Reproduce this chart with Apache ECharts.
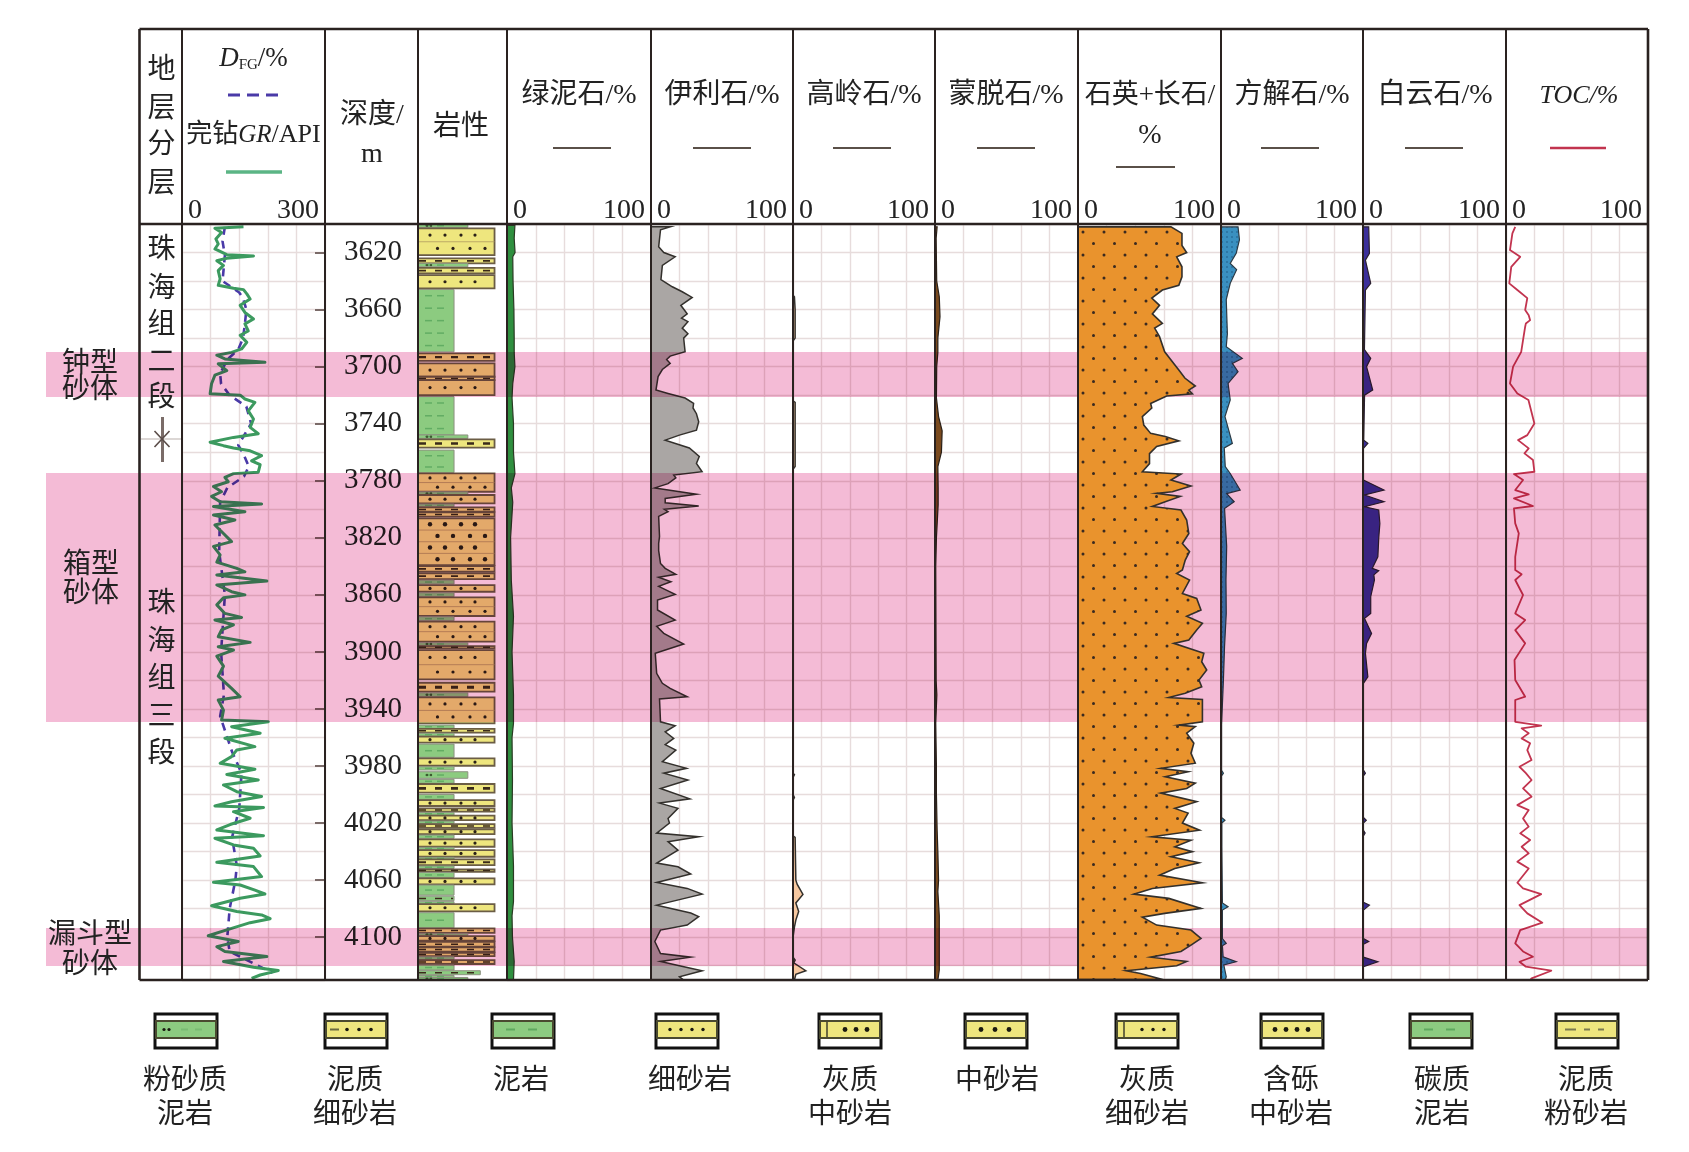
<!DOCTYPE html>
<html><head><meta charset="utf-8">
<style>html,body{margin:0;padding:0;background:#fff}#c{width:1689px;height:1152px}</style>
<script src="https://cdn.jsdelivr.net/npm/echarts@6/dist/echarts.min.js"></script>
</head><body><div id="c"></div>
<script>
// ---------- data ----------
const depthMin = 3600, depthMax = 4130;
const depthTicks = [3620,3660,3700,3740,3780,3820,3860,3900,3940,3980,4020,4060,4100];
const bandTop = [3689.7,3774.6,4093.5];
const bandBase = [3721.3,3949.1,4120.2];
const bandNames = [['钟型','砂体'],['箱型','砂体'],['漏斗型','砂体']];

const grDepth = [3602,3603,3606,3610.5,3614,3617.5,3621.5,3622.4,3624,3625.7,3629,3632.7,3638.5,3643,3645,3646,3649,3652.6,3657,3662,3666.6,3670,3675,3678,3683,3687.6,3690,3692,3694.6,3697,3698,3702.8,3706,3712,3719,3720,3722.7,3725,3731,3736.7,3742.6,3747,3749.6,3753,3755.4,3757,3759,3762.4,3766,3768.7,3774,3775,3777.6,3780.7,3784,3787.7,3791,3794.7,3796.3,3798,3801.7,3804,3807.5,3811,3817,3822.7,3826,3832,3837,3841.4,3843.8,3846,3850.3,3853,3857.8,3860,3862,3867,3873,3875.8,3877.6,3881,3884.6,3889.3,3893.3,3896.4,3898.7,3903,3910,3917,3925.6,3931.4,3933.7,3940.8,3947.8,3949,3952.4,3957,3960.5,3966.4,3968.7,3973.4,3978,3982.3,3986,3989.8,3993.3,3998,4001.4,4005,4008,4009,4012,4016.6,4021,4024.8,4028.8,4030.6,4035.3,4037.7,4043,4047.5,4050.5,4057.5,4061.5,4063.4,4067,4069.7,4072.7,4077.9,4082,4084.4,4087,4089.8,4093.8,4099,4103,4106.6,4110,4113.6,4117,4121,4123.4,4126.5,4128.8];
const grValue = [129,69,83,71,76,69,94,150,94,73,87,76,80,76,108,129,136,143,122,132,150,132,139,122,136,125,104,73,90,174,76,94,69,62,59,122,132,153,139,150,143,160,108,59,87,108,143,167,146,164,160,108,90,97,66,83,62,80,167,66,132,66,111,69,87,104,66,80,73,115,132,73,178,73,104,132,87,73,90,125,69,108,83,76,143,76,108,73,87,76,104,122,76,87,83,181,104,164,90,153,115,104,80,153,94,160,87,115,167,104,69,171,108,143,101,73,171,69,108,150,164,73,150,167,66,122,153,174,122,62,115,167,185,143,104,55,118,73,90,178,87,150,202,164,146];

const dfgDepth = [3602,3612,3622,3640,3648,3652,3660,3670,3680,3688,3695,3705,3712,3720,3728,3740,3755,3762,3770,3777,3785,3795,3830,3860,3900,3930,3945,3970,3985,4010,4030,4050,4060,4080,4100,4110,4125];
const dfgValue = [90,85,90,85,120,128,135,132,128,118,95,80,82,100,135,145,118,130,140,130,95,80,78,90,82,88,80,105,125,120,105,115,112,100,95,100,190];

const chloriteDepth = [3601,3610,3620,3623,3640,3660,3680,3690,3700,3712,3722,3740,3760,3775,3785,3795,3820,3850,3875,3900,3930,3950,3960,3990,4020,4050,4075,4085,4100,4117,4130];
const chloriteValue = [5.5,5,5.6,4,4.2,4.8,5,5,5.5,4,3.5,4.5,4.5,5.5,3,4,2.5,3,4.5,3.5,4.5,4.5,3.5,3.8,3.5,4.5,4.5,3.5,3.8,5,4.5];

const illiteDepth = [3602,3604,3616,3620,3623,3629,3639,3644,3647.5,3651.5,3657,3663,3666,3668.5,3673,3677,3680,3689.5,3692.6,3695,3697.7,3702,3707,3716.4,3718.8,3722,3725.8,3729,3733,3738.6,3744.5,3748,3751.5,3757,3763,3767.8,3773.7,3776,3778,3782,3785,3789.5,3792.4,3795.4,3797.7,3800,3801.7,3805,3819,3824,3829,3838,3841.4,3845.6,3847.7,3850.8,3854,3859.7,3863.6,3870.6,3877.7,3882,3887,3894.5,3901,3915,3922,3925.6,3931.4,3933,3949,3951.7,3956,3960.6,3965,3968.8,3977,3981.6,3985,3989.8,3995.7,4003,4006,4009.7,4016.7,4020,4027,4029.6,4033,4039,4048,4050.6,4055.7,4061.6,4065.8,4069.8,4077.5,4083,4085.6,4091.5,4095,4103,4111.4,4114,4117,4120,4123.5,4127.7,4130];
const illiteValue = [13.5,6.7,5.4,9,17,8,7,15,22,29,21,25.5,21.5,26,22,26,23,24,13.5,11,13.5,8,5,3.5,12,24,30,29.6,32,33.6,32,20,10,27,34,32,36,16,17.5,12,2.7,32,10,10,33.6,9.4,12,5.4,6,5.4,5.4,6.7,10,17.5,5.4,14,5.4,17,4.6,4.6,17,4,9,23,3,4,8,13.5,25.5,6,6.7,17,10,16,10,17.5,8,25,9,26,6.7,27.4,6,19,12,13,4,33.6,12,19,4,19,28,4,25.5,36,4,28,33.6,25.5,6.7,2.7,6.7,28,6.7,20,36,20,23];

const kaoliniteDepth = [3600,3650,3651,3660,3680,3682,3724,3725,3770,3772,3985,3986,3988,4000,4002,4004,4029,4030,4060,4063,4070,4076,4082,4088,4093,4100,4114,4116,4118,4123.5,4126,4130];
const kaoliniteValue = [0,0,1,1.5,1.5,0,0,1.5,1.5,0,0,1,0,0,1,0,0,1.5,2,3,7,2,4,2,1,0,0,1.5,.5,9,2,1];

const montDepth = [3602,3610,3640,3651,3665,3680,3690,3700,3722,3735,3745,3760,3770,3785,3797,3820,3840,3920,3930,3950,3980,4000,4025,4040,4060,4068,4085,4100,4123,4130];
const montValue = [1.5,.8,1.2,3,3.5,2,2,1.2,1,2.5,5,4.5,2,2.2,2.2,1,.5,.8,1.3,.5,1,1,1.5,2,2.5,2,3,3,3,2];

const quartzDepth = [3602,3606.6,3615,3620,3623,3630,3637,3643,3646.3,3652,3657,3663,3669.7,3673,3679,3689.6,3696.6,3702.4,3708,3713.6,3716.4,3719,3720.6,3725.8,3729,3735,3741,3746.8,3749,3752,3756,3761,3768,3773.7,3775.3,3779.5,3783.7,3787.7,3788.8,3791,3794.7,3798,3800.5,3807.5,3817,3824,3829.7,3835.6,3842.6,3845,3849.6,3859,3862.5,3870.6,3875,3880,3884.6,3891.7,3894,3901,3906.9,3912.7,3919.7,3924.4,3929,3932,3933.3,3949,3951.3,3952.4,3957,3964,3971,3978,3981.6,3984,3987.5,3992,3995.7,3999,4005,4009.7,4013,4020,4025,4029.6,4032,4036.6,4040,4043.6,4047.8,4051.8,4056.5,4061.8,4065.8,4069.8,4072.8,4079.8,4083.3,4086,4091.5,4095,4100.8,4105.5,4110,4114,4117,4120,4123.5,4125.4,4129.6];
const quartzValue = [65,72.7,72.7,76,69,72.7,72.7,70.5,59,51.6,57,52,59,53.6,57,60.6,66,70.5,74.7,82,77.5,80,62,50.8,51.6,45,46,50.8,61,70.5,55,50,50,45,72,65,79,66,55,71.5,61,52,72,76,77.5,73,78,75,73,69,78,73,83,86,76,87,83,77.5,67,88,86.5,90,84.6,86.5,75,63.5,87,87,70.5,82,76,81,79,82,57.8,77,61,82,76,57.8,83,67.7,77,73,85,51.6,79,67.7,80,65,84.6,67.7,57,87,52,39,63.5,86,60.6,45,55,79,86,79,72,50.8,76,69,33.8,43.7,59];

const calciteDepth = [3602,3611,3620.6,3627.6,3632,3641.6,3653,3677,3686,3694.2,3697.7,3703.6,3711.8,3723.4,3735,3753.8,3757,3770,3774.9,3786.5,3789,3794.7,3799.4,3826,3849.6,3873,3896,3919.7,3951,3983,3985,3987,4016,4018,4020,4036.6,4076,4078.6,4081,4101,4104.3,4106,4113.7,4117.2,4119.5,4127.7,4130];
const calciteValue = [12,13,10.7,6.5,11,6.5,3.7,4.5,3.7,15,8,12,5,6.5,2.8,8,2.3,3,6.5,13.5,4,9.3,2.5,4,3.5,3.7,2.5,1.7,.4,.4,1.7,.4,.4,2.8,.6,.6,1,5,1,1,3.7,1,1.5,10.7,2,3.7,3];

const dolomiteDepth = [3602,3620.6,3625.3,3641.6,3646.3,3688,3694.2,3700,3716.4,3720,3751.5,3753.8,3757.3,3779.5,3786.5,3790,3794.7,3798.2,3800.5,3809.9,3820.4,3833.3,3841.4,3843,3846,3849.6,3861.3,3873,3876.5,3887,3894,3901,3917.4,3922,3982.8,3985,3987,4016,4018,4020,4025,4027,4029,4075.5,4077.5,4081,4101,4103,4105,4114,4117.2,4120.7,4130];
const dolomiteValue = [4,4.5,1.7,5.4,1.7,1,5.4,2.5,6.8,1.1,.5,3.4,.3,.3,14.7,1.1,14.7,1.1,11,11.8,11,10.4,6.5,11,7.6,8,5.4,5.4,1.1,6,2.5,1.7,3.4,.3,.3,1.7,.3,.3,2.3,.3,.3,1.5,.3,.3,4.5,.3,.3,4,.3,.3,10.4,.3,.3];

const tocDepth = [3602,3606.6,3618.3,3623,3630,3641.6,3646.3,3652,3660.3,3664,3667.4,3669.7,3672,3681.4,3689.6,3700,3711.8,3718.8,3723.4,3739.8,3748,3751.5,3757.3,3760.8,3765.5,3773.7,3775.3,3779.5,3786.5,3789.6,3792.4,3797.7,3799.4,3809.9,3816.9,3833.3,3842.6,3845.6,3849.6,3860.1,3873,3877.7,3884.7,3894,3905.7,3919.7,3931.4,3933.7,3949,3951.7,3953.6,3957,3960.6,3964,3968.8,3975.8,3980.5,3985,3989.8,3995.7,4001.5,4007.4,4010.9,4016.7,4022.5,4027.2,4031.9,4036.6,4041.2,4047,4051.8,4061.8,4065.8,4069.8,4077.5,4083.3,4089.8,4095,4104.3,4110,4113.7,4117.2,4120.7,4123.5,4128.9,4130];
const tocValue = [6.5,4.5,2.8,10,3.7,2.3,8,15,13.5,16,17,14,13.5,12,10.7,5,2.8,8,15.8,20,15,8.5,16,13,19,20,5.6,12,6.5,16,5.6,19,5.6,6.5,9,6.5,6.5,11,6.5,12,6.5,13.5,6.5,13.5,6,6.5,13.5,6.5,6.5,24.8,11,16,11,17,15,18,9.5,14,18,12,18,8,16,12,16,10,17,11,16,8,16,8,12,24.8,9.5,15,25.6,10,6.5,12,19,9.5,14,31.9,18,17];

const lithTop = [3600,3603.1,3624.1,3627.6,3630.7,3635.8,3645.9,3690.7,3697.7,3707.1,3709.4,3721,3747.9,3751,3758.5,3774.8,3787.7,3790,3796.3,3798.6,3802.2,3806.4,3839.8,3844.9,3849.6,3853.1,3858.5,3861.7,3875.3,3878.8,3893.5,3895.9,3898.7,3921.6,3928.6,3931.9,3951.3,3954,3957,3959.4,3964.6,3974.6,3980.5,3984,3989.3,3992.6,3999.9,4003.9,4009.7,4012.5,4014.8,4018.6,4020.7,4024.4,4028.4,4031.4,4037,4038.9,4044,4045.5,4050.1,4052.5,4054.6,4058.8,4063.4,4071.2,4075.1,4076.8,4082.8,4093.8,4097.3,4099.2,4103.2,4107.1,4110.9,4113.7,4116,4119.5,4123.5,4126.8,4128.2];
const lithBase = [3602.4,3621.8,3627.6,3630,3634.6,3645.2,3689.6,3695.9,3707.1,3709.4,3719.9,3747.9,3750.3,3756.8,3774.3,3787.7,3790,3795.8,3798.2,3801.7,3805.2,3839.1,3843.8,3848.9,3852.4,3857.8,3861.3,3874.8,3878.1,3892.8,3895.4,3897.5,3919.2,3927.9,3931.4,3950.1,3953.6,3956.6,3959,3963.6,3973.9,3979.8,3982.8,3988.6,3992.1,3998.7,4003.4,4008,4012,4014.4,4017.9,4020.2,4023.3,4027.7,4030.7,4036.6,4038.4,4043.6,4045,4049.4,4051.8,4054.1,4058.1,4063,4070.5,4074.4,4076.3,4081.9,4093.4,4096.9,4098.7,4102.5,4106.7,4110.2,4113.2,4115.6,4118.8,4123,4126.3,4127.7,4130];
const lithType = ['silt','sand','dark','silt','dark','sand','mud','dark','sand','dark','sand','mud','silt','dark','mud','sand','silt','sand','mud','dark','dark','sand','dark','dark','mud','sand','mud','sand','mud','sand','silt','dark','sand','dark','silt','sand','mud','dark','mud','sand','mud','sand','mud','silt','mud','dark','mud','sand','dark','mud','sand','mud','dark','sand','mud','sand','mud','sand','mud','dark','mud','dark','mud','sand','mud','mudDark','mud','sand','mud','dark','silt','sand','dark','dark','dark','mud','dark','mud','siltLong','mud','silt'];

const legendNames = ['粉砂质\n泥岩','泥质\n细砂岩','泥岩','细砂岩','灰质\n中砂岩','中砂岩','灰质\n细砂岩','含砾\n中砂岩','碳质\n泥岩','泥质\n粉砂岩'];
const legendColors = ['#8CCB80','#EEE67E','#8CCB80','#EEE67E','#EEE67E','#EEE67E','#EEE67E','#EEE67E','#8CCB80','#EEE67E'];

// ---------- layout ----------
const W = 1689, H = 1152;
const colX = [139.5,182,325,418,507,651,793,935,1078,1221,1363,1506,1648];
const top0 = 29, head = 224, bot = 980;
const INK = '#2a2220';
const SERIF = '"Liberation Serif","Noto Sans CJK SC",serif';
const font = (s, extra) => (extra ? extra + ' ' : '') + s + 'px ' + SERIF;

const grids = [], xAxes = [], yAxes = [], series = [];
function addGrid(left, right, xOpt, yOpt) {
  grids.push({left, top: head, width: right - left, height: bot - head, containLabel: false});
  const i = grids.length - 1;
  xAxes.push(Object.assign({type:'value', gridIndex:i, min:0, max:100, show:false}, xOpt || {}));
  yAxes.push(Object.assign({type:'value', gridIndex:i, min:depthMin, max:depthMax, inverse:true, show:false}, yOpt || {}));
  return i;
}
const GRIDLINE = {show:true, lineStyle:{color:'#e7dcdc', width:1.4}};
function trackAxes(maxV) {
  return [{
    show:true, position:'top', min:0, max:maxV, interval:maxV/5,
    axisLine:{show:false}, axisTick:{show:false}, splitLine:GRIDLINE,
    axisLabel:{show:true, customValues:[0,maxV], alignMinLabel:'left', alignMaxLabel:'right',
      margin:-1, padding:[0,6,0,6], color:'#222', fontSize:28, fontFamily:SERIF}
  },{
    show:true, interval:20, axisLine:{show:false}, axisTick:{show:false}, axisLabel:{show:false}, splitLine:GRIDLINE
  }];
}
function trackGrid(a, b, maxV) { const t = trackAxes(maxV); return addGrid(colX[a], colX[b], t[0], t[1]); }

function fillTrack(gi, depth, value, fill, stroke, lw, z) {
  series.push({
    type:'custom', xAxisIndex:gi, yAxisIndex:gi, clip:true, silent:true, z:z||3,
    data:[[0, depth[0]]],
    renderItem:(p, api) => {
      const pts = [api.coord([0, depth[0]])];
      depth.forEach((d, i) => pts.push(api.coord([value[i], d])));
      pts.push(api.coord([0, depth[depth.length-1]]));
      return {type:'polygon', shape:{points:pts}, style:{fill, stroke:stroke||'#33302c', lineWidth:lw||1.5, lineJoin:'miter'}};
    }
  });
}
function lineTrack(gi, depth, value, color, width, dash, z) {
  series.push({
    type:'line', xAxisIndex:gi, yAxisIndex:gi, showSymbol:false, silent:true, z:z||4, animation:false,
    data:depth.map((d,i)=>[value[i], d]),
    lineStyle:{color, width, type:dash||'solid', join:'round'}
  });
}
function dotPattern(bg, dot, w, h, spots, r) {
  const c = document.createElement('canvas'); c.width = w; c.height = h;
  const x = c.getContext('2d');
  x.fillStyle = bg; x.fillRect(0,0,w,h);
  x.fillStyle = dot;
  spots.forEach(s => { x.beginPath(); x.arc(s[0], s[1], r, 0, Math.PI*2); x.fill(); });
  return {image:c, repeat:'repeat'};
}

// overlay grid for the pink bands (runs past the frame on the left)
const bandGrid = addGrid(46, colX[12], {min:0, max:1});
series.push({
  type:'custom', xAxisIndex:bandGrid, yAxisIndex:bandGrid, clip:false, silent:true, z:100, blendMode:'multiply',
  data:bandTop.map((t,i)=>[t, bandBase[i]]),
  renderItem:(p, api) => {
    const a = api.coord([0, api.value(0)]), b = api.coord([1, api.value(1)]);
    return {type:'rect', shape:{x:a[0], y:a[1], width:b[0]-a[0], height:b[1]-a[1]},
      style:{fill:'#F4BBD6'}};
  }
});

// GR
const grG = trackGrid(1, 2, 300);
lineTrack(grG, dfgDepth, dfgValue, '#4a3aa8', 2.6, [8,6], 4);
lineTrack(grG, grDepth, grValue, '#3c9a5f', 3, 'solid', 5);

// depth axis
addGrid(colX[2], colX[3], null, {
  show:true, position:'right',
  axisLine:{show:false},
  axisTick:{show:true, inside:true, length:10, customValues:depthTicks, lineStyle:{color:'#7a6a68', width:2}},
  axisLabel:{show:true, inside:true, margin:16, customValues:depthTicks, color:'#222', fontSize:29, fontFamily:SERIF,
    padding:[8,0,0,0], formatter:v => String(v)},
  splitLine:{show:false}
});

// lithology
const lithW = {mud:40.5, mudDark:40.5, silt:56, siltLong:70, sand:86, dark:86};
const lithG = addGrid(colX[3], colX[4]);
const DOT_A = [12,27,43,57], DOT_B = [19.5,35,52,67];
series.push({
  type:'custom', xAxisIndex:lithG, yAxisIndex:lithG, clip:true, silent:true, z:3,
  data:lithTop.map((t,i)=>[t, lithBase[i], i]),
  renderItem:(p, api) => {
    const i = api.value(2), ty = lithType[i];
    const a = api.coord([0, api.value(0)]), b = api.coord([lithW[ty], api.value(1)]);
    const x = a[0], y = a[1], w = b[0]-a[0], h = Math.max(b[1]-a[1], 2);
    const green = ty==='mud'||ty==='mudDark'||ty==='silt'||ty==='siltLong';
    const kids = [{type:'rect', shape:{x, y, width:w, height:h},
      style:{fill:green?'#8CCB80':'#EEE67E', stroke:green?'#8d9080':'#6b5d45', lineWidth:green?1:1.8}}];
    const rows = Math.max(1, Math.round(h/12));
    for (let r=0; r<rows; r++) {
      const ry = y + (r+.5)*h/rows;
      if (ty==='sand') {
        const rad = rows>=4 ? 2.2 : 1.6;
        (r%2?DOT_B:DOT_A).forEach(dx => kids.push({type:'circle', shape:{cx:x+dx, cy:ry, r:rad}, style:{fill:'#2a2018'}}));
        if (r>0) kids.push({type:'line', shape:{x1:x, y1:y+r*h/rows, x2:x+w, y2:y+r*h/rows}, style:{stroke:'#b09a60', lineWidth:.8}});
      } else if (ty==='dark'||ty==='mudDark'||ty==='siltLong') {
        kids.push({type:'line', shape:{x1:x+1, y1:ry, x2:x+w-1, y2:ry},
          style:{stroke:'#3a2a1a', lineWidth:Math.min(3, Math.max(1.5, h*.32)), lineDash:[7,9]}});
      } else {
        [[7,14],[19,26]].forEach(s => kids.push({type:'line', shape:{x1:x+s[0], y1:ry, x2:x+s[1], y2:ry}, style:{stroke:'#62ad63', lineWidth:1.5}}));
        if (ty==='silt') [9,13].forEach(dx => kids.push({type:'circle', shape:{cx:x+dx, cy:ry, r:1.2}, style:{fill:'#3d5a30'}}));
      }
    }
    return {type:'group', children:kids};
  }
});

// mineral tracks
const chlG = trackGrid(4,5,100); fillTrack(chlG, chloriteDepth, chloriteValue, '#2f8f3f', '#2b3a24', 1.2);
const illG = trackGrid(5,6,100); fillTrack(illG, illiteDepth, illiteValue, '#aaa6a4');
const kaoG = trackGrid(6,7,100); fillTrack(kaoG, kaoliniteDepth, kaoliniteValue, '#f7c8a0');
const monG = trackGrid(7,8,100); fillTrack(monG, montDepth, montValue, '#7a4a1e', '#2a2018', 1.2);
const quaG = trackGrid(8,9,100);
fillTrack(quaG, quartzDepth, quartzValue, dotPattern('#E9932D', '#3a2a20', 21, 23, [[12,2],[1.5,13.5]], 1.5), '#33302c', 1.6, 101);
const calG = trackGrid(9,10,100); fillTrack(calG, calciteDepth, calciteValue, dotPattern('#3a90c0', '#2a6f9c', 5, 5, [[2,2]], 1), '#2c3a44', 1.2);
const dolG = trackGrid(10,11,100); fillTrack(dolG, dolomiteDepth, dolomiteValue, '#3b2f9a', '#2a2030', 1.2);
const tocG = trackGrid(11,12,100); lineTrack(tocG, tocDepth, tocValue, '#c2344f', 1.8);

// ---------- header, frame, labels ----------
const gfx = [];
const txt = (text, x, y, opt) => gfx.push({type:'text', z:(opt&&opt.z)||150, silent:true,
  style:Object.assign({text, x, y:y+3, align:'center', verticalAlign:'middle', fill:'#222', font:font(28)}, opt&&opt.style||{})});
const seg = (x1,y1,x2,y2,stroke,lineWidth,extra) => gfx.push({type:'line', z:200, silent:true,
  shape:{x1,y1,x2,y2}, style:Object.assign({stroke, lineWidth}, extra||{})});

// frame
colX.forEach((x,i)=> seg(x, top0, x, bot, INK, (i===0||i===12)?2.6:2));
[top0, head, bot].forEach(y => seg(colX[0], y, colX[12], y, INK, 2.4));

// strat column
const sx = 161.5;
[['地',68],['层',107],['分',143],['层',182],['珠',248],['海',287],['组',323],['二',361],['段',396],
 ['珠',602],['海',640],['组',677],['三',715],['段',752]].forEach(t => txt(t[0], sx, t[1]));
seg(sx+1, 417, sx+1, 462, '#7a6c68', 3);
seg(141, 439, 181, 439, '#b9b0ac', 1.2);
seg(sx-7, 431, sx+8, 447, '#5a4c48', 1.6);
seg(sx+8, 431, sx-7, 447, '#5a4c48', 1.6);

// GR header
gfx.push({type:'text', z:150, silent:true, style:{
  text:'{i|D}{s|FG}{n|/%}', x:253.5, y:59, align:'center', verticalAlign:'middle', fill:'#222',
  rich:{i:{font:font(27,'italic'), fill:'#222'}, s:{font:font(15), fill:'#222', verticalAlign:'bottom', padding:[12,0,0,0]}, n:{font:font(27), fill:'#222'}}}});
seg(228, 95, 278, 95, '#4a3aa8', 3.2, {lineDash:[12,7]});
gfx.push({type:'text', z:150, silent:true, style:{
  text:'{c|完钻}{i|GR}{c|/API}', x:253.5, y:135, align:'center', verticalAlign:'middle', fill:'#222',
  rich:{c:{font:font(26), fill:'#222'}, i:{font:font(25,'italic'), fill:'#222'}}}});
seg(226, 172, 282, 172, '#5bb585', 3.4);
txt('深度/', 372, 113);
txt('m', 372, 152);
txt('岩性', 461, 125, {style:{font:font(28), y:128}});

const mineralHead = [['绿泥石/%',579,582],['伊利石/%',722,722],['高岭石/%',864,862],['蒙脱石/%',1006,1006],['方解石/%',1292,1290],['白云石/%',1435,1434]];
mineralHead.forEach(t => { txt(t[0], t[1], 93); seg(t[2]-29, 148, t[2]+29, 148, '#5a5048', 2.2); });
txt('石英+长石/', 1150, 93, {style:{font:font(27)}});
txt('%', 1150, 133);
seg(1116, 167, 1175, 167, '#5a5048', 2.2);
gfx.push({type:'text', z:150, silent:true, style:{text:'TOC/%', x:1579, y:96, align:'center', verticalAlign:'middle', font:font(26,'italic'), fill:'#222'}});
seg(1550, 148, 1606, 148, '#c2344f', 2.4);

// band labels
[[90,[362,388]],[91,[563,592]],[90,[933,963]]].forEach((b,i) => b[1].forEach((y,j) => txt(bandNames[i][j], b[0], y)));

// legend
const swX = [155,325,492,656,819,965,1116,1261,1410,1556];
const lblX = [185,355,521,690,850,997,1147,1291,1442,1586];
const swKind = [['d',2,'-'],['-1',3],['-'],[null,4,'s'],['v',3,'b'],[null,3,'b'],['v',3,'s'],[null,4,'b'],['-'],['=']];
legendNames.forEach((name,i) => {
  const x = swX[i], w = 62;
  gfx.push({type:'rect', z:150, silent:true, shape:{x, y:1014, width:w, height:34}, style:{fill:'#fff', stroke:'#111', lineWidth:3}});
  gfx.push({type:'rect', z:151, silent:true, shape:{x:x+1, y:1021, width:w-2, height:17}, style:{fill:legendColors[i], stroke:'#4a4a30', lineWidth:2}});
  const k = swKind[i], cy = 1029.5;
  const dot = (cx,r) => gfx.push({type:'circle', z:152, silent:true, shape:{cx, cy, r}, style:{fill:'#1a1a10'}});
  const dash = (a,b,c) => gfx.push({type:'line', z:152, silent:true, shape:{x1:a, y1:cy, x2:b, y2:cy}, style:{stroke:c, lineWidth:2}});
  const bigR = k[2]==='b' ? 2.4 : 1.7;
  if (k[0]==='v') seg(x+8, 1021, x+8, 1038, '#4a4a30', 1.6);
  if (k[0]==='-1') { dash(x+5, x+14, '#6a6a40'); [22,34,46].forEach(d=>dot(x+d,1.8)); }
  else if (k[0]==='d') { [9,14].forEach(d=>dot(x+d,1.6)); dash(x+26,x+33,'#79bb72'); dash(x+40,x+47,'#79bb72'); }
  else if (k[0]==='-') { dash(x+14,x+23,'#5fa85f'); dash(x+36,x+45,'#5fa85f'); }
  else if (k[0]==='=') { dash(x+9,x+20,'#7a7a50'); dash(x+28,x+34,'#7a7a50'); dash(x+42,x+48,'#7a7a50'); }
  else { const n=k[1], st=(i===4||i===6)?26:(n===4?14:16), gap=(i===4||i===6)?11:(n===4?11:14);
    for (let j=0;j<n;j++) dot(x+st+j*gap,bigR); }
  gfx.push({type:'text', z:150, silent:true, style:{text:name, x:lblX[i], y:1065, align:'center', verticalAlign:'top', lineHeight:34, fill:'#222', font:font(28)}});
});

const chart = echarts.init(document.getElementById('c'), null, {renderer:'canvas', width:W, height:H});
chart.setOption({
  animation:false, backgroundColor:'#fff',
  grid:grids, xAxis:xAxes, yAxis:yAxes, series,
  graphic:{elements:gfx}
});
</script></body></html>
